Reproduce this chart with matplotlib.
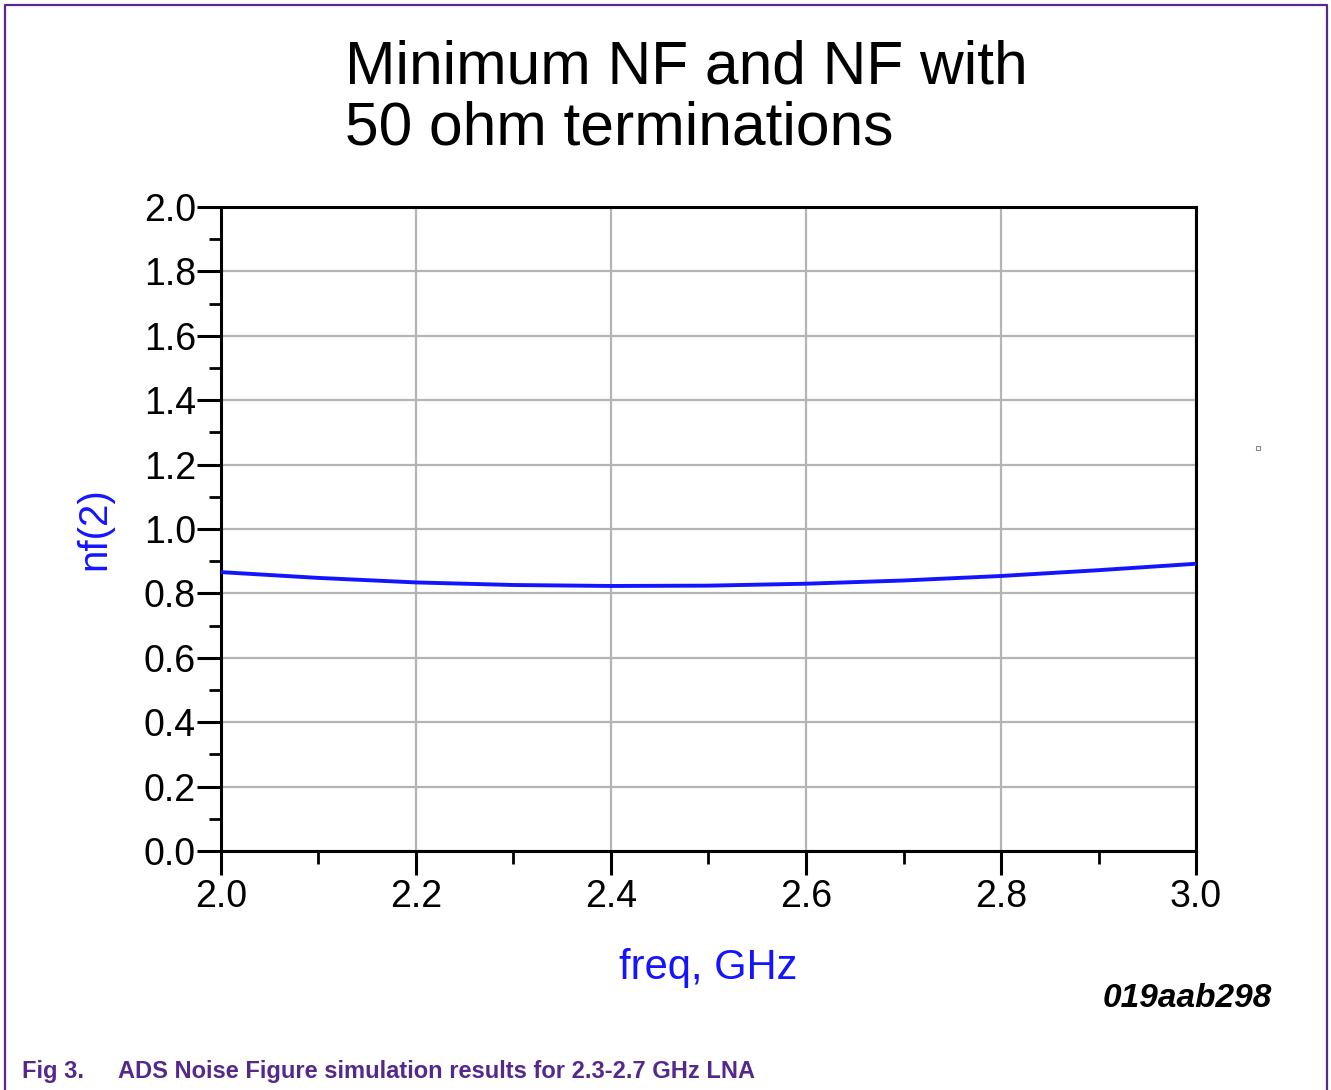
import matplotlib
matplotlib.use("Agg")
import matplotlib.pyplot as plt
from matplotlib.ticker import MultipleLocator
from matplotlib.patches import Rectangle
from matplotlib.lines import Line2D

plt.rcParams["font.family"] = ["Liberation Sans", "DejaVu Sans"]

# noise figure
freq_ghz = [2.0, 2.1, 2.2, 2.3, 2.4, 2.5, 2.6, 2.7, 2.8, 2.9, 3.0]
nf_db    = [0.866, 0.848, 0.834, 0.826, 0.823, 0.824, 0.830, 0.840, 0.854, 0.872, 0.892]

X_TICKS = [2.0, 2.2, 2.4, 2.6, 2.8, 3.0]
Y_TICKS = [0.0, 0.2, 0.4, 0.6, 0.8, 1.0, 1.2, 1.4, 1.6, 1.8, 2.0]

PURPLE = "#55288c"
BLUE   = "#1414ff"

fig = plt.figure(figsize=(13.31, 10.90), dpi=100)
ax = fig.add_axes([0.1660, 0.2193, 0.8986 - 0.1660, 0.8101 - 0.2193])

ax.plot(freq_ghz, nf_db, color=BLUE, lw=2.8, solid_capstyle="butt", zorder=3)

ax.set_xlim(2.0, 3.0)
ax.set_ylim(0.0, 2.0)
ax.set_xticks(X_TICKS)
ax.set_yticks(Y_TICKS)
ax.set_xticklabels([f"{v:.1f}" for v in X_TICKS])
ax.set_yticklabels([f"{v:.1f}" for v in Y_TICKS])
ax.xaxis.set_minor_locator(MultipleLocator(0.1))
ax.yaxis.set_minor_locator(MultipleLocator(0.1))

ax.grid(True, which="major", color="#b4b4b4", lw=1.6, zorder=0)
ax.tick_params(which="major", direction="out", length=17, width=2.2,
               labelsize=27, pad=1, color="black")
ax.tick_params(axis="x", which="major", pad=3)
ax.tick_params(which="minor", direction="out", length=9, width=2.0)
for s in ax.spines.values():
    s.set_linewidth(2.2)
    s.set_color("black")

ax.set_xlabel("freq, GHz", color=BLUE, fontsize=30, labelpad=24)
ax.set_ylabel("nf(2)", color=BLUE, fontsize=29, labelpad=22)

fig.text(345 / 1331, 1 - 39 / 1090, "Minimum NF and NF with\n50 ohm terminations",
         fontsize=43.6, ha="left", va="top", linespacing=1.1)

fig.text(1272 / 1331, 1 - 1007 / 1090, "019aab298", fontsize=24,
         style="italic", fontweight="bold", ha="right", va="baseline")

fig.text(22 / 1331, 1 - 1078 / 1090, "Fig 3.", fontsize=17, fontweight="bold",
         color=PURPLE, ha="left", va="baseline")
fig.text(118 / 1331, 1 - 1078 / 1090,
         "ADS Noise Figure simulation results for 2.3-2.7 GHz LNA",
         fontsize=17, fontweight="bold", color=PURPLE, ha="left", va="baseline")

# open-bottom purple frame around the figure
fx0, fx1, fy1 = 4.5 / 1331, 1326.5 / 1331, 1 - 4.5 / 1090
fig.add_artist(Line2D([fx0, fx0, fx1, fx1], [0, fy1, fy1, 0],
                      transform=fig.transFigure, color=PURPLE, lw=1.6))

# tiny stray marker at right of plot
fig.add_artist(Rectangle((1256 / 1331, 1 - 450 / 1090), 4 / 1331, 4 / 1090,
                         transform=fig.transFigure, fill=False,
                         edgecolor="#888888", lw=0.8))

fig.savefig("out.png", dpi=100)
